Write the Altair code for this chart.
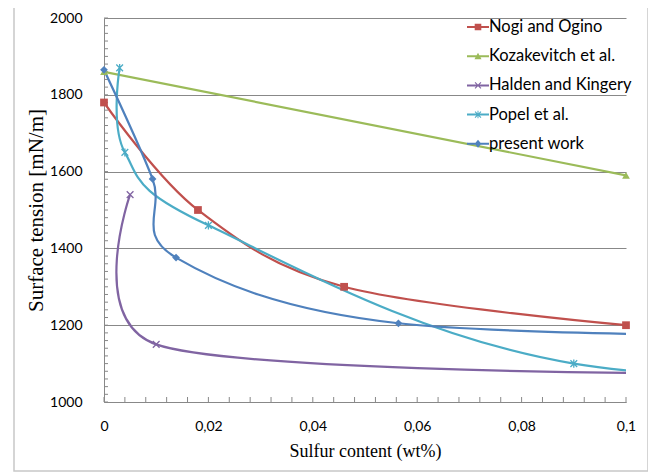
import altair as alt
import pandas as pd

# ---- data ----
series_names = ["Nogi and Ogino", "Kozakevitch et al.", "Halden and Kingery", "Popel et al.", "present work"]
colors = ["#C0504D", "#9BBB59", "#8064A2", "#4BACC6", "#4F81BD"]

nogi_x = [0.0, 0.018, 0.046, 0.1]
nogi_y = [1780, 1500, 1300, 1200]
nogi_m = [True, True, True, True]

koza_x = [0.0, 0.1]
koza_y = [1860, 1590]
koza_m = [True, True]

halden_x = [0.005, 0.01, 0.1]
halden_y = [1540, 1150, 1076]
halden_m = [True, True, False]

# last points lie beyond the visible axis range (series continues past 0.1)
popel_x = [0.003, 0.004, 0.02, 0.09, 0.2]
popel_y = [1870, 1650, 1460, 1100, 1050]
popel_m = [True, True, True, True, False]

present_x = [0.0, 0.0093, 0.0138, 0.0564, 0.15]
present_y = [1865, 1581, 1376, 1205, 1170]
present_m = [True, True, True, True, False]

x_ticks = [0, 0.02, 0.04, 0.06, 0.08, 0.1]
y_ticks = [1000, 1100, 1200, 1300, 1400, 1500, 1600, 1700, 1800, 1900, 2000]
x_minor = [i * 0.004 for i in range(26)]
y_minor = [1000 + 20 * i for i in range(51)]

marker_paths = [
    "square",
    "triangle-up",
    "M-1,-1L1,1M-1,1L1,-1",
    "M-1,-1L1,1M-1,1L1,-1M0,-1.2L0,1.2",
    "diamond",
]
# legend symbols: line + marker, built only from filled shapes
BAR = "M-1,-0.09H1V0.09H-1Z"
XSHAPE = ("M-0.305,-0.235L-0.235,-0.305L0.305,0.235L0.235,0.305Z"
          "M-0.305,0.235L0.235,-0.305L0.305,-0.235L-0.235,0.305Z")
legend_paths = [
    BAR + "M-0.3,-0.3H0.3V0.3H-0.3Z",
    BAR + "M-0.32,0.27L0,-0.32L0.32,0.27Z",
    BAR + XSHAPE,
    BAR + XSHAPE + "M-0.045,-0.34H0.045V0.34H-0.045Z",
    BAR + "M-0.3,0L0,-0.36L0.3,0L0,0.36Z",
]

rows = []
for name, xs, ys, ms in zip(
    series_names,
    [nogi_x, koza_x, halden_x, popel_x, present_x],
    [nogi_y, koza_y, halden_y, popel_y, present_y],
    [nogi_m, koza_m, halden_m, popel_m, present_m],
):
    for i, (xv, yv, mv) in enumerate(zip(xs, ys, ms)):
        rows.append({"series": name, "x": xv, "y": yv, "idx": i, "marker": mv})
df = pd.DataFrame(rows)

W, H = 522, 384
GRAY = "#888888"
LABEL_FONT = "Lato"
TITLE_FONT = "Liberation Serif"

x_enc = alt.X(
    "x:Q",
    scale=alt.Scale(domain=[0, 0.1], nice=False, zero=False),
    axis=alt.Axis(
        values=x_ticks,
        labelExpr="datum.value == 0 ? '0' : replace(format(datum.value, '.2~f'), '.', ',')",
        grid=False,
        tickSize=0,
        domainColor=GRAY,
        domainWidth=1,
        labelFont=LABEL_FONT,
        labelFontSize=14,
        labelColor="#000000",
        labelPadding=17,
        labelFlush=False,
        title="Sulfur content (wt%)",
        titleFont=TITLE_FONT,
        titleFontSize=18,
        titleFontWeight="normal",
        titleColor="#000000",
        titlePadding=9,
    ),
)
y_enc = alt.Y(
    "y:Q",
    scale=alt.Scale(domain=[1000, 2000], nice=False, zero=False),
    axis=alt.Axis(
        values=y_ticks,
        format="d",
        grid=True,
        gridColor=GRAY,
        gridWidth=1,
        tickSize=0,
        domainColor=GRAY,
        domainWidth=1,
        labelFont=LABEL_FONT,
        labelFontSize=14,
        labelColor="#000000",
        labelPadding=22,
        title="Surface tension [mN/m]",
        titleFont=TITLE_FONT,
        titleFontSize=21,
        titleFontWeight="normal",
        titleColor="#000000",
        titlePadding=3,
    ),
)

color_scale = alt.Scale(domain=series_names, range=colors)

main_df = df[df["series"] != "Halden and Kingery"]
halden_df = df[df["series"] == "Halden and Kingery"]

lines = alt.Chart(main_df).mark_line(interpolate="cardinal", tension=0, strokeWidth=2.2, clip=True).encode(
    x=x_enc,
    y=y_enc,
    color=alt.Color("series:N", scale=color_scale, legend=None),
    detail="series:N",
    order="idx:Q",
)
halden_line = alt.Chart(halden_df).mark_line(
    interpolate="cardinal", tension=0.15, strokeWidth=2.2, clip=True
).encode(
    x="x:Q",
    y="y:Q",
    color=alt.Color("series:N", scale=color_scale, legend=None),
    order="idx:Q",
)

mk = df[df["marker"]]
filled_names = ["Nogi and Ogino", "Kozakevitch et al.", "present work"]
stroke_names = ["Halden and Kingery", "Popel et al."]

markers_filled = alt.Chart(mk[mk["series"].isin(filled_names)]).mark_point(
    filled=True, opacity=1, size=60
).encode(
    x="x:Q",
    y="y:Q",
    color=alt.Color("series:N", scale=color_scale, legend=None),
    shape=alt.Shape("series:N", scale=alt.Scale(domain=series_names, range=marker_paths), legend=None),
)

markers_stroke = alt.Chart(mk[mk["series"].isin(stroke_names)]).mark_point(
    filled=False, opacity=1, size=45, strokeWidth=1.3
).encode(
    x="x:Q",
    y="y:Q",
    color=alt.Color("series:N", scale=color_scale, legend=None),
    shape=alt.Shape("series:N", scale=alt.Scale(domain=series_names, range=marker_paths), legend=None),
)

leg = alt.Legend(
    title=None,
    orient="none",
    legendX=363,
    legendY=-2,
    labelFont=LABEL_FONT,
    labelFontSize=16.5,
    labelColor="#000000",
    labelOffset=0,
    symbolSize=484,
    symbolStrokeWidth=0,
    symbolOpacity=1,
    rowPadding=9.2,
    labelLimit=300,
)
legend_layer = alt.Chart(df).mark_point(filled=True, opacity=0).encode(
    x="x:Q",
    y="y:Q",
    color=alt.Color("series:N", scale=color_scale, legend=leg),
    shape=alt.Shape("series:N", scale=alt.Scale(domain=series_names, range=legend_paths), legend=leg),
)

minor_x = alt.Chart(pd.DataFrame({"x": x_minor})).mark_rule(color=GRAY, strokeWidth=1).encode(
    x="x:Q", y=alt.value(H), y2=alt.value(H - 5)
)
minor_y = alt.Chart(pd.DataFrame({"y": y_minor})).mark_rule(color=GRAY, strokeWidth=1).encode(
    y="y:Q", x=alt.value(0), x2=alt.value(4)
)

# light chart-area frame (Excel style)
frame = alt.Chart(pd.DataFrame({"k": [0]})).mark_rect(
    fill=None, stroke="#C8C8C8", strokeWidth=1.5, clip=False
).encode(
    x=alt.value(-90), x2=alt.value(544), y=alt.value(-16), y2=alt.value(453)
)

chart = (
    alt.layer(frame, minor_x, minor_y, lines, halden_line, markers_filled, markers_stroke, legend_layer)
    .resolve_scale(shape="independent", color="independent")
    .properties(
        width=W,
        height=H,
        padding={"left": 96, "top": 10, "right": 22, "bottom": 70},
        autosize=alt.AutoSizeParams(type="none"),
        background="white",
    )
    .configure_view(stroke=None)
)

chart.save("out.html", embed_options={"renderer": "svg", "actions": False})
